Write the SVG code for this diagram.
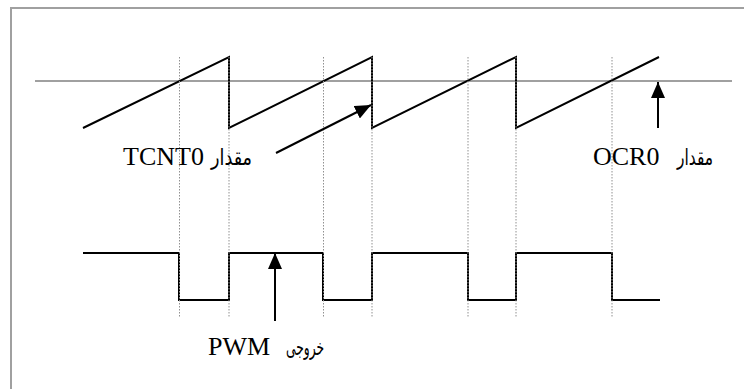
<svg xmlns="http://www.w3.org/2000/svg" width="744" height="389" viewBox="0 0 744 389">
<defs>
<marker id="ah" viewBox="0 0 16 14" markerWidth="16" markerHeight="14" refX="16" refY="7" orient="auto" markerUnits="userSpaceOnUse">
<path d="M0,0 L16,7 L0,14 z" fill="#000"/>
</marker>
<style>
.frame{stroke:#a0a0a0;stroke-width:2;fill:none}
.ref{stroke:#808080;stroke-width:1.5;fill:none}
.wave{stroke:#000;stroke-width:2;fill:none}
.dot{stroke:#909090;stroke-width:1;stroke-dasharray:1.5,1.5;fill:none}
.arr{stroke:#000;stroke-width:2;fill:none;marker-end:url(#ah)}
.lat{font-family:"Liberation Serif","Times New Roman",serif;font-size:26px;fill:#000}
.ar{font-family:"DejaVu Sans",sans-serif;font-size:22px;fill:#000}
</style>
</defs>
<rect width="744" height="389" fill="#fff"/>
<g id="frame">
<path class="frame" d="M11,389 L11,8 L744,8"/>
</g>
<g id="ocr0-level">
<line class="ref" x1="35" y1="81" x2="732" y2="81"/>
</g>
<g id="tcnt0-wave">
<path class="wave" d="M83,128 L229,57 L229,128 L372,57 L372,128 L516,57 L516,128 L659,57"/>
</g>
<g id="pwm-wave">
<path class="wave" d="M83,253 L179,253 L179,300 L229,300 L229,253 L323,253 L323,300 L372,300 L372,253 L468,253 L468,300 L516,300 L516,253 L612,253 L612,300 L660,300"/>
</g>
<g id="guides">
<line class="dot" x1="179.5" y1="57" x2="179.5" y2="318"/>
<line class="dot" x1="229" y1="57" x2="229" y2="318"/>
<line class="dot" x1="323.5" y1="57" x2="323.5" y2="318"/>
<line class="dot" x1="372" y1="57" x2="372" y2="318"/>
<line class="dot" x1="468" y1="57" x2="468" y2="318"/>
<line class="dot" x1="516" y1="57" x2="516" y2="318"/>
<line class="dot" x1="612" y1="57" x2="612" y2="318"/>
</g>
<g id="connectors">
<line class="arr" x1="276" y1="153" x2="371" y2="105"/>
<line class="arr" x1="658" y1="128" x2="658" y2="82"/>
<line class="arr" x1="275" y1="321" x2="275" y2="253"/>
</g>
<g id="label-tcnt0">
<text class="lat" x="123" y="165">TCNT0</text>
<text class="ar" x="252" y="165" text-anchor="end" textLength="41" lengthAdjust="spacingAndGlyphs">مقدار</text>
</g>
<g id="label-ocr0">
<text class="lat" x="593" y="165">OCR0</text>
<text class="ar" x="713" y="165" text-anchor="end" textLength="36" lengthAdjust="spacingAndGlyphs">مقدار</text>
</g>
<g id="label-pwm">
<text class="lat" x="208" y="355">PWM</text>
<text class="ar" x="324" y="355" text-anchor="end" textLength="38" lengthAdjust="spacingAndGlyphs">خروجی</text>
</g>
</svg>
